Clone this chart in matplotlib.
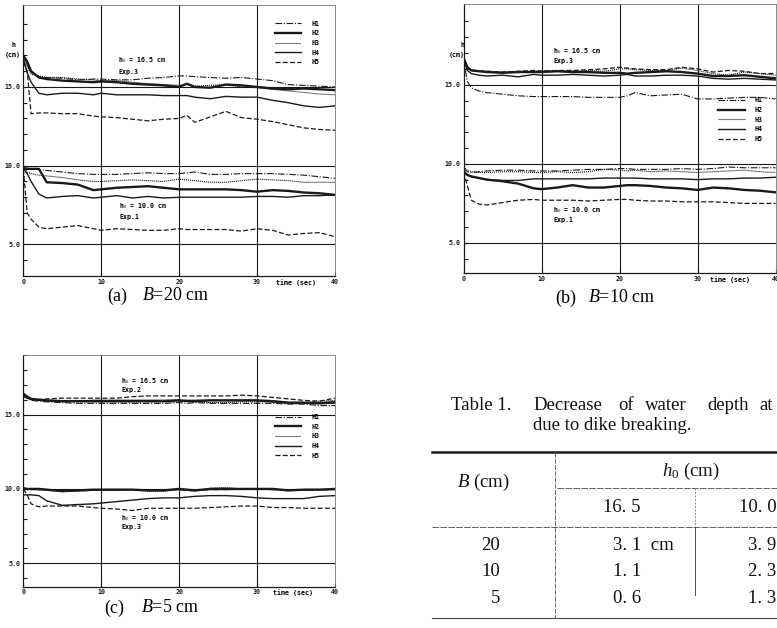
import matplotlib
matplotlib.use('Agg')
import matplotlib.pyplot as plt

plt.rcParams['mathtext.fontset'] = 'custom'
plt.rcParams['mathtext.rm'] = 'Liberation Serif'
plt.rcParams['mathtext.it'] = 'Liberation Serif:italic'

W, H = 777, 628
MONO = dict(family='DejaVu Sans Mono', weight='bold', size=4.8)
INK = '#1a1a1a'

# time axis (sec), shared by all gauges
time = [0, 0.5, 1, 2, 3, 5, 7, 9, 10, 12, 14, 16, 18, 20, 21, 22, 24, 26, 28, 30, 32, 34, 36, 38, 40]
gauges = ['H1', 'H2', 'H3', 'H4', 'H5']

# (a) B = 20 cm
a_up_H1 = [17.0, 16.4, 15.9, 15.65, 15.6, 15.55, 15.45, 15.5, 15.5, 15.45, 15.45, 15.55, 15.6, 15.7, 15.7, 15.65, 15.6, 15.55, 15.6, 15.5, 15.4, 15.15, 15.1, 15.05, 15.0]
a_up_H2 = [17.0, 16.6, 16.0, 15.6, 15.5, 15.4, 15.35, 15.3, 15.35, 15.3, 15.2, 15.15, 15.1, 15.0, 15.2, 15.0, 14.95, 15.15, 15.1, 15.0, 14.9, 14.85, 14.9, 14.85, 14.8]
a_up_H3 = [16.9, 16.3, 15.8, 15.7, 15.6, 15.6, 15.5, 15.45, 15.4, 15.4, 15.3, 15.2, 15.15, 15.1, 15.2, 15.05, 15.1, 15.15, 15.0, 14.95, 14.85, 14.75, 14.65, 14.55, 14.5]
a_up_H4 = [16.8, 15.9, 15.3, 14.6, 14.5, 14.6, 14.6, 14.5, 14.6, 14.5, 14.5, 14.5, 14.45, 14.45, 14.45, 14.35, 14.25, 14.4, 14.35, 14.35, 14.15, 14.0, 13.8, 13.7, 13.8]
a_up_H5 = [16.6, 16.0, 13.3, 13.35, 13.35, 13.3, 13.3, 13.15, 13.1, 13.05, 12.95, 12.85, 12.95, 13.0, 13.2, 12.75, 13.1, 13.45, 13.05, 12.95, 12.8, 12.6, 12.4, 12.3, 12.25]
a_lo_H1 = [9.9, 9.85, 9.8, 9.75, 9.7, 9.6, 9.5, 9.45, 9.45, 9.45, 9.5, 9.55, 9.5, 9.5, 9.55, 9.6, 9.45, 9.45, 9.5, 9.5, 9.5, 9.45, 9.4, 9.3, 9.2]
a_lo_H2 = [9.8, 9.8, 9.8, 9.8, 8.95, 8.9, 8.8, 8.45, 8.5, 8.6, 8.65, 8.7, 8.6, 8.5, 8.5, 8.5, 8.5, 8.5, 8.45, 8.35, 8.45, 8.4, 8.3, 8.25, 8.15]
a_lo_H3 = [9.9, 9.6, 9.5, 9.4, 9.35, 9.25, 9.1, 9.0, 9.0, 9.05, 9.1, 9.05, 9.0, 9.15, 9.1, 9.05, 8.95, 8.95, 9.05, 9.15, 9.1, 9.05, 8.95, 8.95, 8.95]
a_lo_H4 = [9.8, 9.5, 9.0, 8.2, 7.95, 8.05, 8.1, 7.95, 8.0, 8.1, 7.95, 8.05, 7.95, 8.0, 8.0, 8.0, 8.0, 8.0, 8.0, 8.05, 8.05, 8.0, 8.1, 8.1, 8.15]
a_lo_H5 = [9.8, 7.0, 6.6, 6.1, 6.0, 6.1, 6.2, 6.0, 5.9, 6.0, 5.95, 5.9, 5.9, 6.0, 5.95, 5.95, 5.95, 5.95, 5.85, 6.0, 5.9, 5.6, 5.7, 5.75, 5.5]

# (b) B = 10 cm
b_up_H1 = [16.6, 15.2, 14.8, 14.6, 14.5, 14.4, 14.3, 14.25, 14.25, 14.25, 14.25, 14.2, 14.2, 14.2, 14.3, 14.5, 14.3, 14.35, 14.4, 14.1, 14.1, 14.15, 14.2, 14.2, 14.1]
b_up_H2 = [16.7, 16.1, 15.9, 15.85, 15.8, 15.75, 15.8, 15.8, 15.8, 15.85, 15.8, 15.8, 15.75, 15.75, 15.7, 15.75, 15.8, 15.85, 15.8, 15.7, 15.55, 15.55, 15.6, 15.5, 15.4]
b_up_H3 = [16.5, 16.0, 15.9, 15.85, 15.85, 15.8, 15.8, 15.85, 15.9, 15.85, 15.85, 15.9, 15.85, 16.0, 16.0, 15.95, 15.9, 15.9, 16.05, 15.9, 15.7, 15.6, 15.8, 15.7, 15.6]
b_up_H4 = [16.6, 15.9, 15.7, 15.6, 15.55, 15.6, 15.5, 15.65, 15.6, 15.6, 15.65, 15.6, 15.55, 15.6, 15.65, 15.55, 15.55, 15.6, 15.6, 15.55, 15.4, 15.35, 15.4, 15.35, 15.3]
b_up_H5 = [16.6, 16.1, 15.95, 15.85, 15.85, 15.8, 15.85, 15.9, 15.85, 15.9, 15.9, 15.95, 16.0, 16.1, 16.05, 16.0, 15.95, 15.95, 16.1, 16.0, 15.8, 15.9, 15.85, 15.7, 15.7]
b_lo_H1 = [9.7, 9.5, 9.45, 9.5, 9.55, 9.6, 9.6, 9.55, 9.55, 9.55, 9.6, 9.65, 9.65, 9.7, 9.7, 9.65, 9.65, 9.65, 9.7, 9.65, 9.7, 9.8, 9.75, 9.75, 9.75]
b_lo_H2 = [9.5, 9.3, 9.2, 9.1, 9.0, 8.9, 8.75, 8.45, 8.4, 8.5, 8.65, 8.5, 8.5, 8.6, 8.65, 8.65, 8.6, 8.5, 8.45, 8.35, 8.5, 8.45, 8.35, 8.3, 8.2]
b_lo_H3 = [9.8, 9.6, 9.5, 9.45, 9.45, 9.5, 9.5, 9.45, 9.45, 9.5, 9.45, 9.5, 9.65, 9.6, 9.55, 9.6, 9.5, 9.55, 9.5, 9.45, 9.5, 9.55, 9.6, 9.5, 9.45]
b_lo_H4 = [9.5, 9.3, 9.2, 9.1, 9.0, 8.95, 8.95, 9.05, 9.05, 9.05, 9.05, 9.05, 9.1, 9.1, 9.1, 9.1, 9.05, 9.05, 9.05, 9.0, 9.05, 9.05, 9.1, 9.1, 9.15]
b_lo_H5 = [9.5, 8.6, 7.7, 7.45, 7.4, 7.55, 7.7, 7.75, 7.7, 7.7, 7.7, 7.65, 7.7, 7.75, 7.75, 7.7, 7.65, 7.65, 7.6, 7.6, 7.6, 7.55, 7.5, 7.5, 7.5]

# (c) B = 5 cm
c_up_H1 = [16.4, 16.1, 15.95, 15.9, 15.85, 15.8, 15.75, 15.75, 15.75, 15.75, 15.75, 15.75, 15.75, 15.8, 15.75, 15.8, 15.75, 15.75, 15.75, 15.75, 15.75, 15.7, 15.7, 15.6, 15.6]
c_up_H2 = [16.4, 16.2, 16.05, 16.0, 15.95, 15.9, 15.9, 15.9, 15.9, 15.9, 15.9, 15.9, 15.9, 15.95, 15.9, 15.9, 15.95, 15.95, 15.95, 15.95, 15.9, 15.8, 15.8, 15.75, 15.8]
c_up_H3 = [16.3, 16.1, 16.0, 15.95, 15.9, 15.85, 15.85, 15.85, 15.85, 15.85, 15.85, 15.85, 15.85, 15.85, 15.9, 15.85, 15.8, 15.8, 15.85, 15.85, 15.85, 15.75, 15.8, 15.9, 15.95]
c_up_H4 = [16.3, 16.1, 16.05, 15.95, 15.95, 15.9, 15.9, 15.95, 15.95, 15.95, 15.95, 15.95, 15.95, 15.95, 15.95, 15.95, 15.95, 15.95, 15.95, 15.95, 15.85, 15.8, 15.75, 15.8, 15.85]
c_up_H5 = [16.2, 16.1, 16.0, 16.0, 16.05, 16.1, 16.1, 16.1, 16.1, 16.1, 16.2, 16.25, 16.25, 16.25, 16.25, 16.25, 16.25, 16.25, 16.3, 16.25, 16.15, 16.05, 15.95, 15.9, 16.1]
c_lo_H1 = [10.05, 10.0, 10.0, 9.95, 9.95, 9.9, 9.9, 9.9, 9.95, 9.95, 9.95, 9.9, 9.9, 9.95, 9.9, 9.9, 9.95, 9.95, 10.0, 10.0, 9.95, 9.95, 9.95, 9.95, 9.95]
c_lo_H2 = [10.05, 10.0, 10.0, 10.0, 9.95, 9.85, 9.9, 9.95, 9.95, 9.95, 9.95, 9.9, 9.9, 10.0, 9.95, 9.9, 10.0, 10.0, 10.0, 10.0, 10.0, 9.9, 9.95, 9.95, 10.0]
c_lo_H3 = [10.0, 10.0, 9.95, 9.95, 9.9, 9.85, 9.85, 9.9, 9.9, 9.9, 9.95, 9.85, 9.85, 9.95, 9.9, 9.85, 10.05, 10.1, 10.0, 10.0, 9.95, 9.95, 9.9, 9.95, 9.95]
c_lo_H4 = [9.6, 9.6, 9.6, 9.55, 9.2, 8.9, 8.95, 9.0, 9.05, 9.15, 9.25, 9.35, 9.4, 9.4, 9.45, 9.5, 9.55, 9.55, 9.5, 9.4, 9.35, 9.35, 9.35, 9.5, 9.55]
c_lo_H5 = [10.0, 9.6, 9.0, 8.8, 8.85, 8.85, 8.85, 8.75, 8.7, 8.65, 8.55, 8.7, 8.7, 8.7, 8.7, 8.7, 8.75, 8.8, 8.85, 8.85, 8.75, 8.75, 8.7, 8.7, 8.7]

# table 1
tab_B = ['20', '10', '5']
tab_165 = ['3. 1  cm', '1. 1', '0. 6']
tab_100 = ['3. 9', '2. 3', '1. 3']

styles = {
    'H1': dict(ls=(0, (6, 1.5, 1, 1.5)), lw=0.8),
    'H2': dict(ls='-', lw=1.7),
    'H3': dict(ls=(0, (1, 0.8)), lw=0.8),
    'H4': dict(ls='-', lw=1.0),
    'H5': dict(ls=(0, (4, 1.8)), lw=0.9),
}

fig = plt.figure(figsize=(W / 100, H / 100), dpi=100)


def px_axes(left, top, right, bottom):
    return fig.add_axes([left / W, 1 - bottom / H, (right - left) / W, (bottom - top) / H])


def draw_panel(ax, ylim, upper, lower, notes, leg_anchor, time_x):
    ax.set_xlim(0, 40)
    ax.set_ylim(*ylim)
    for y in [5, 10, 15]:
        ax.axhline(y, color=INK, lw=0.8, zorder=1)
    for x in [10, 20, 30]:
        ax.axvline(x, color=INK, lw=0.8, zorder=1)
    for g, ys in zip(gauges, upper):
        ax.plot(time, ys, color=INK, label=g, **styles[g])
    for g, ys in zip(gauges, lower):
        ax.plot(time, ys, color=INK, **styles[g])
    ax.set_xticks([0, 10, 20, 30, 40])
    ax.set_xticklabels(['0', '10', '20', '30', '40'], **MONO)
    ax.set_yticks([5, 10, 15])
    ax.set_yticklabels(['5.0', '10.0', '15.0'], **MONO)
    ax.set_yticks(range(4, 20), minor=True)
    ax.tick_params(which='both', direction='in', length=3, width=0.8, pad=2, colors=INK)
    for s in ['left', 'bottom']:
        ax.spines[s].set_color(INK)
        ax.spines[s].set_linewidth(0.9)
    for s in ['top', 'right']:
        ax.spines[s].set_color('#777777')
        ax.spines[s].set_linewidth(0.6)
    for tx, ty, s in notes:
        ax.text(tx, ty, s, ha='left', va='center', **MONO)
    ax.annotate('time (sec)', xy=(time_x, 0), xycoords=ax.get_xaxis_transform(),
                xytext=(0, -2), textcoords='offset points', ha='center', va='top', **MONO)
    ax.legend(loc='upper right', bbox_to_anchor=leg_anchor, frameon=False,
              prop=dict(family='DejaVu Sans Mono', weight='bold', size=4.8),
              handlelength=4.0, handletextpad=1.5, labelspacing=0.55, borderpad=0)


ax_a = px_axes(23.3, 5, 335, 276)
draw_panel(ax_a, (3.0, 20.2),
           [a_up_H1, a_up_H2, a_up_H3, a_up_H4, a_up_H5],
           [a_lo_H1, a_lo_H2, a_lo_H3, a_lo_H4, a_lo_H5],
           [(12.2, 16.7, 'h$_0$ = 16.5 cm'), (12.2, 15.95, 'Exp.3'),
            (12.3, 7.45, 'h$_0$ = 10.0 cm'), (12.3, 6.75, 'Exp.1')],
           (0.96, 0.955), 35)

ax_b = px_axes(463.5, 4, 775.5, 273)
draw_panel(ax_b, (3.1, 20.1),
           [b_up_H1, b_up_H2, b_up_H3, b_up_H4, b_up_H5],
           [b_lo_H1, b_lo_H2, b_lo_H3, b_lo_H4, b_lo_H5],
           [(11.5, 17.1, 'h$_0$ = 16.5 cm'), (11.5, 16.47, 'Exp.3'),
            (11.5, 7.1, 'h$_0$ = 10.0 cm'), (11.5, 6.45, 'Exp.1')],
           (0.97, 0.665), 34.2)

ax_c = px_axes(23.3, 355, 335, 586.7)
draw_panel(ax_c, (3.43, 18.0),
           [c_up_H1, c_up_H2, c_up_H3, c_up_H4, c_up_H5],
           [c_lo_H1, c_lo_H2, c_lo_H3, c_lo_H4, c_lo_H5],
           [(12.6, 17.25, 'h$_0$ = 16.5 cm'), (12.6, 16.68, 'Exp.2'),
            (12.6, 8.05, 'h$_0$ = 10.0 cm'), (12.6, 7.42, 'Exp.3')],
           (0.96, 0.76), 34.6)

# y-axis unit labels
fig.text(13 / W, 1 - 45 / H, 'h', ha='center', va='center', **MONO)
fig.text(13 / W, 1 - 55 / H, '(cm)', ha='center', va='center', **MONO)
fig.text(463 / W, 1 - 45 / H, 'h', ha='center', va='center', **MONO)
fig.text(457 / W, 1 - 55 / H, '(cm)', ha='center', va='center', **MONO)

# panel captions
SERIF = dict(family='Liberation Serif', size=13)
for lab, tail, x0, x1, y in [('(a)', '$B$=20 cm', 107, 142, 296),
                              ('(b)', '$B$=10 cm', 555, 588, 298),
                              ('(c)', '$B$=5 cm', 104, 141, 608)]:
    fig.text(x0 / W, 1 - y / H, lab, ha='left', va='center', **SERIF)
    fig.text(x1 / W, 1 - y / H, tail, ha='left', va='center', **SERIF)

# table 1 drawn in page pixels
tab = fig.add_axes([0, 0, 1, 1])
tab.set_xlim(0, W)
tab.set_ylim(H, 0)
tab.axis('off')
tab.patch.set_alpha(0)

TS = dict(family='Liberation Serif', size=13.5, color='#111111')
for word, wx in [('Table 1.', 451), ('Decrease', 533), ('of', 618), ('water', 645),
                 ('depth', 707), ('at', 759)]:
    tab.text(wx, 406, word, ha='left', va='center', **TS)
tab.text(533, 425, 'due to dike breaking.', ha='left', va='center', **TS)
tab.plot([432, 777], [452, 452], color=INK, lw=1.8)
tab.plot([557, 777], [488, 488], color='#444444', lw=0.6, ls=(0, (8, 1.5)))
tab.plot([432, 777], [527, 527], color='#444444', lw=0.6, ls=(0, (8, 1.5)))
tab.plot([432, 777], [618, 618], color='#444444', lw=0.8)
tab.plot([555, 555], [452, 618], color='#555555', lw=0.6, ls=(0, (6, 1.5)))
tab.plot([695, 695], [488, 527], color='#666666', lw=0.5, ls=(0, (3, 2)))
tab.plot([695, 695], [527, 595], color='#333333', lw=0.6)
tab.text(691, 471, '$h_0$ (cm)', ha='center', va='center', **TS)
tab.text(483, 482, '$B$ (cm)', ha='center', va='center', **TS)
tab.text(622, 508, '16. 5', ha='center', va='center', **TS)
tab.text(758, 508, '10. 0', ha='center', va='center', **TS)
for i, (b, v1, v2) in enumerate(zip(tab_B, tab_165, tab_100)):
    y = 545 + i * 26.6
    tab.text(500, y, b, ha='right', va='center', **TS)
    tab.text(613, y, v1, ha='left', va='center', **TS)
    tab.text(748, y, v2, ha='left', va='center', **TS)

fig.savefig('out.png', dpi=100)
